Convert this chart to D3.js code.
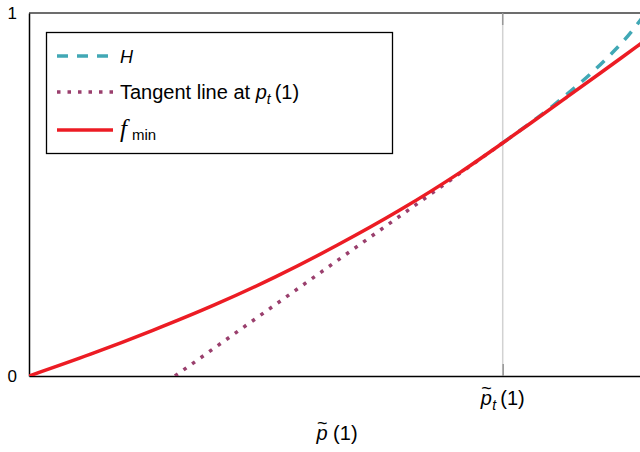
<!DOCTYPE html>
<html>
<head>
<meta charset="utf-8">
<script src="https://cdn.jsdelivr.net/npm/d3@7"></script>
<style>
  body { margin: 0; background: #fff; }
  svg { display: block; font-family: "Liberation Sans", Arial, Helvetica, sans-serif; }
</style>
</head>
<body>
<svg id="chart" width="640" height="452"></svg>
<script>
// values (x = p~(1) scaled to [0,1], y in [0,1])
const fMinX = [0, 0.1, 0.2, 0.3, 0.4, 0.5, 0.6, 0.7, 0.769, 0.813, 0.873, 0.927, 0.987, 1.0];
const fMinY = [0, 0.060, 0.125, 0.195, 0.273, 0.360, 0.455, 0.561, 0.642, 0.695, 0.768, 0.834, 0.908, 0.924];
const hX = [0.769, 0.800, 0.825, 0.849, 0.873, 0.898, 0.922, 0.943, 0.964, 0.987, 1.0];
const hY = [0.642, 0.680, 0.711, 0.742, 0.776, 0.812, 0.849, 0.884, 0.921, 0.968, 0.998];
const tangentX = [0.237, 0.769];
const tangentY = [0, 0.642];
const pT = 0.769;
const yTicks = [0, 1];
const yTickLabels = ["0", "1"];

const svg = d3.select("#chart");
const mLeft = 29, mRight = 645, mTop = 13, mBottom = 376;

const x = d3.scaleLinear().domain([0, 1]).range([mLeft, mRight]);
const y = d3.scaleLinear().domain([0, 1]).range([mBottom, mTop]);

const zip = (xs, ys) => xs.map((v, i) => [v, ys[i]]);
const line = d3.line().x(d => x(d[0])).y(d => y(d[1])).curve(d3.curveMonotoneX);

svg.append("defs").append("clipPath").attr("id", "clip")
  .append("rect").attr("x", mLeft).attr("y", mTop).attr("width", mRight - mLeft).attr("height", mBottom - mTop);

// vertical guide at p_t
svg.append("line")
  .attr("x1", x(pT)).attr("x2", x(pT)).attr("y1", y(0)).attr("y2", y(1))
  .attr("stroke", "#d2d2d2").attr("stroke-width", 1.5);

// frame: top line
svg.append("line")
  .attr("x1", mLeft).attr("x2", mRight).attr("y1", y(1)).attr("y2", y(1))
  .attr("stroke", "#3c3c3c").attr("stroke-width", 1.6);

// bottom axis with an inward tick at p_t
const xAxis = svg.append("g")
  .attr("transform", `translate(0,${mBottom})`)
  .call(d3.axisBottom(x).tickValues([pT]).tickSize(-12).tickSizeOuter(0).tickFormat(() => ""));
xAxis.select(".domain").attr("stroke", "#000").attr("stroke-width", 1.5);
xAxis.selectAll(".tick line").attr("stroke", "#999").attr("stroke-width", 1.5);

// matching tick at the top
svg.append("line")
  .attr("x1", x(pT)).attr("x2", x(pT)).attr("y1", y(1)).attr("y2", y(1) + 12)
  .attr("stroke", "#999").attr("stroke-width", 1.5);

// left axis
const yAxis = svg.append("g")
  .attr("transform", `translate(${mLeft},0)`)
  .call(d3.axisLeft(y).tickValues(yTicks).tickSize(0).tickSizeOuter(0).tickPadding(12)
    .tickFormat((d, i) => yTickLabels[i]));
yAxis.select(".domain").attr("stroke", "#000").attr("stroke-width", 1.5);
yAxis.selectAll(".tick text")
  .attr("font-size", 17).attr("fill", "#000")
  .attr("font-family", "\"Liberation Sans\", Arial, sans-serif");

// tick label p~_t (1): tilde is a tspan of the same text, lifted over the p
const tl = svg.append("text")
  .attr("x", x(pT)).attr("y", 405)
  .attr("text-anchor", "middle").attr("font-size", 20);
tl.append("tspan").attr("font-style", "italic").text("p");
tl.append("tspan").attr("font-size", 18).attr("dx", -10.5).attr("dy", -11).text("~");
tl.append("tspan").attr("font-style", "italic").attr("font-size", 14).attr("dx", 0.5).attr("dy", 16).text("t");
tl.append("tspan").attr("dy", -5).text("\u2009(1)");

// axis label p~ (1)
const xl = svg.append("text")
  .attr("x", (mLeft + mRight) / 2).attr("y", 440)
  .attr("text-anchor", "middle").attr("font-size", 20);
xl.append("tspan").attr("font-style", "italic").text("p");
xl.append("tspan").attr("font-size", 18).attr("dx", -10.5).attr("dy", -11).text("~");
xl.append("tspan").attr("dx", 0).attr("dy", 11).text(" (1)");

// curves
const plot = svg.append("g").attr("clip-path", "url(#clip)");
plot.append("path")
  .datum(zip(hX, hY))
  .attr("d", line)
  .attr("fill", "none").attr("stroke", "#41a8b5").attr("stroke-width", 3.5)
  .attr("stroke-dasharray", "11,9");
plot.append("path")
  .datum(zip(tangentX, tangentY))
  .attr("d", line)
  .attr("fill", "none").attr("stroke", "#9a3f6d").attr("stroke-width", 3.5)
  .attr("stroke-dasharray", "3.5,7");
svg.append("path")
  .datum(zip(fMinX, fMinY))
  .attr("d", line)
  .attr("fill", "none").attr("stroke", "#ec1c24").attr("stroke-width", 3.5)
  .attr("clip-path", "url(#clip)");

// legend
const lg = svg.append("g");
lg.append("rect")
  .attr("x", 46.5).attr("y", 32.5).attr("width", 346).attr("height", 121)
  .attr("fill", "#fff").attr("stroke", "#000").attr("stroke-width", 1.3);

const legendRows = [
  { y: 56, color: "#41a8b5", dash: "11,9" },
  { y: 92, color: "#9a3f6d", dash: "3.5,7" },
  { y: 130, color: "#ec1c24", dash: null }
];
legendRows.forEach(r => {
  lg.append("line")
    .attr("x1", 57).attr("x2", 113).attr("y1", r.y).attr("y2", r.y)
    .attr("stroke", r.color).attr("stroke-width", 3.5)
    .attr("stroke-dasharray", r.dash);
});

lg.append("text").attr("x", 120).attr("y", 62.5)
  .attr("font-size", 18).attr("font-style", "italic").text("H");

const t2 = lg.append("text").attr("x", 120).attr("y", 99).attr("font-size", 20);
t2.append("tspan").text("Tangent line at ");
t2.append("tspan").attr("font-style", "italic").text("p");
t2.append("tspan").attr("font-style", "italic").attr("font-size", 14).attr("dy", 5).text("t");
t2.append("tspan").attr("dy", -5).text("\u2009(1)");

const t3 = lg.append("text").attr("x", 120).attr("y", 137);
t3.append("tspan").attr("font-family", "\"Liberation Serif\", \"DejaVu Serif\", serif")
  .attr("font-style", "italic").attr("font-size", 25).text("f");
t3.append("tspan").attr("font-size", 15).attr("dx", 5).attr("dy", 3).text("min");
</script>
</body>
</html>
